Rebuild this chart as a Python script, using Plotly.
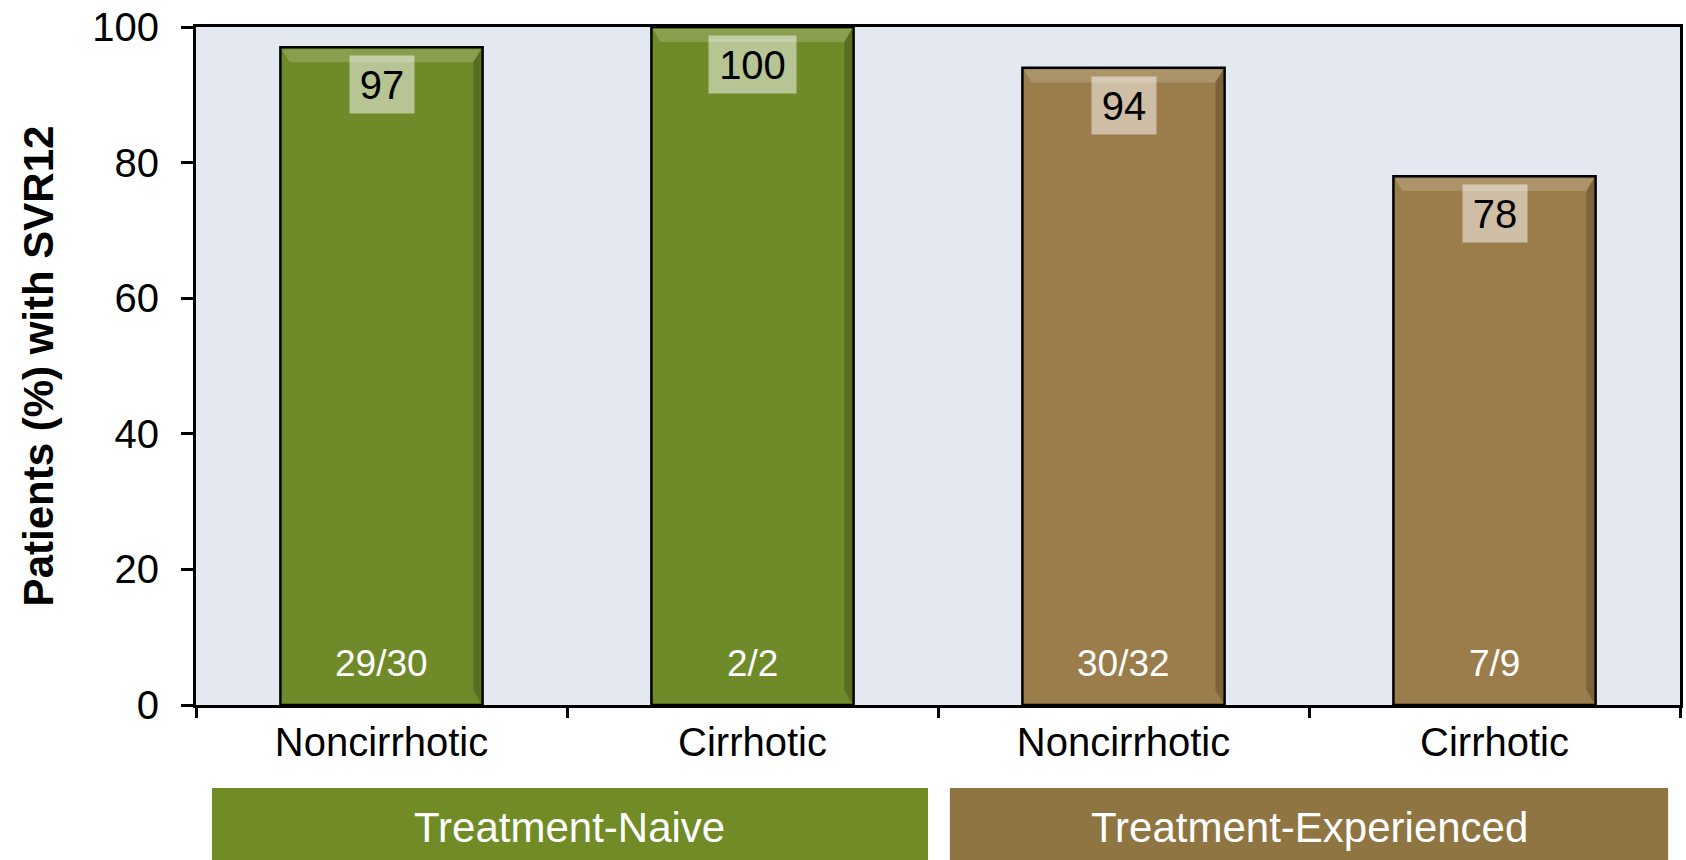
import plotly.graph_objects as go

categories = ["Noncirrhotic", "Cirrhotic", "Noncirrhotic ", "Cirrhotic "]
tick_text = ["Noncirrhotic", "Cirrhotic", "Noncirrhotic", "Cirrhotic"]
svr_pct = [97, 100, 94, 78]
n_labels = ["29/30", "2/2", "30/32", "7/9"]
groups = ["Treatment-Naive", "Treatment-Experienced"]

GREEN = "#6F8A28"
BROWN = "#9A7D4A"
bar_colors = [GREEN, GREEN, BROWN, BROWN]
group_colors = ["#718B26", "#8F7542"]
FONT = "Arial, Liberation Sans, Helvetica, sans-serif"
BAR_W = 0.545

fig = go.Figure()
fig.add_trace(go.Bar(
    x=categories, y=svr_pct, width=BAR_W,
    marker=dict(color=bar_colors, line=dict(color="black", width=2.5)),
    hoverinfo="skip", showlegend=False,
))

# value labels (semi-transparent boxes) and n/N labels
for i, (c, v, n) in enumerate(zip(categories, svr_pct, n_labels)):
    txt = str(v)
    fig.add_annotation(
        x=c, y=v, xref="x", yref="y", text=txt, showarrow=False,
        yanchor="top", yshift=-8,
        font=dict(family=FONT, size=40, color="black"),
        bgcolor="rgba(255,255,255,0.5)", borderpad=0,
        width=round(0.556 * 40 * len(txt) + 20), height=57,
    )
    fig.add_annotation(
        x=c, y=0, xref="x", yref="y", text=n, showarrow=False,
        yanchor="bottom", yshift=19,
        font=dict(family=FONT, size=37, color="white"),
    )

# subtle bevel highlights on bars
shapes = []
for i, v in enumerate(svr_pct):
    x0, x1 = i - BAR_W / 2, i + BAR_W / 2
    shapes.append(dict(type="path", xref="x", yref="y",
                       path=f"M {x0+0.004},{v-0.3} L {x1-0.004},{v-0.3} L {x1-0.025},{v-2.2} L {x0+0.025},{v-2.2} Z",
                       fillcolor="rgba(255,255,255,0.18)", line=dict(width=0), layer="above"))
    shapes.append(dict(type="path", xref="x", yref="y",
                       path=f"M {x1-0.004},{v-0.3} L {x1-0.004},{0.3} L {x1-0.025},{2.2} L {x1-0.025},{v-2.2} Z",
                       fillcolor="rgba(0,0,0,0.2)", line=dict(width=0), layer="above"))

# group boxes below the axis
box_extents = [(-0.457, 1.473), (1.532, 3.468)]
for g, col, (gx0, gx1) in zip(groups, group_colors, box_extents):
    shapes.append(dict(type="rect", xref="x", yref="paper",
                       x0=gx0, x1=gx1, y0=-0.232, y1=-0.1225,
                       fillcolor=col, line=dict(width=0)))
    fig.add_annotation(x=(gx0 + gx1) / 2, y=(-0.232 - 0.1225) / 2, xref="x", yref="paper",
                       text=g, showarrow=False, yanchor="middle", yshift=-2,
                       font=dict(family=FONT, size=42, color="white"))

fig.update_layout(
    width=1686, height=860,
    margin=dict(l=196, r=3, t=27, b=155),
    paper_bgcolor="white", plot_bgcolor="#E4E9F1",
    font=dict(family=FONT, color="black"),
    shapes=shapes,
    bargap=0.455,
)
fig.update_xaxes(
    type="category", categoryorder="array", categoryarray=categories,
    tickvals=categories, ticktext=tick_text,
    range=[-0.5, 3.5], tickson="boundaries",
    ticks="outside", ticklen=10, tickwidth=2.5, tickcolor="black",
    showline=True, linecolor="black", linewidth=3, mirror=True,
    showgrid=False, zeroline=False,
    tickfont=dict(family=FONT, size=40, color="black"),
)
fig.update_yaxes(
    range=[0, 100], tickvals=[0, 20, 40, 60, 80, 100],
    ticks="outside", ticklen=12, tickwidth=2.5, tickcolor="black",
    showline=True, linecolor="black", linewidth=3, mirror=True,
    showgrid=False, zeroline=False, ticklabelstandoff=14,
    tickfont=dict(family=FONT, size=40, color="black"),
    title=dict(text="<b>Patients (%) with SVR12</b>", standoff=26,
               font=dict(family=FONT, size=42, color="black")),
)

fig.write_html("out.html", config={"displayModeBar": False},
               post_script="document.body.style.margin='0';document.body.style.overflow='hidden';")
